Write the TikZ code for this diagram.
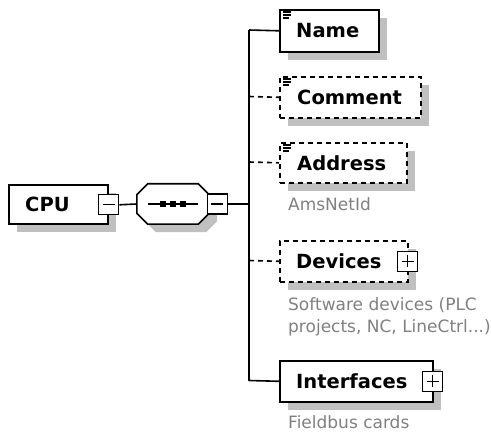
\documentclass[tikz,border=0pt]{standalone}
\usepackage{fontspec}
\setmainfont{DejaVu Sans}
\usetikzlibrary{shadows}
\definecolor{shadowgray}{RGB}{192,192,192}
\definecolor{notegray}{RGB}{128,128,128}
\tikzset{
  shadowed/.style={general shadow={fill=shadowgray, shadow xshift=8pt, shadow yshift=-8pt}},
  elem/.style={draw, line width=1.6pt, fill=white, minimum height=41pt, anchor=north west, inner sep=0pt, shadowed},
  optelem/.style={elem, dash pattern=on 5pt off 4pt},
  seqframe/.style={minimum width=72pt, minimum height=40pt, inner sep=0pt},
  pmbox/.style={draw, line width=1.4pt, fill=white, minimum size=20pt, inner sep=0pt},
  sign/.style={line width=1.4pt},
  lbl/.style={font=\bfseries\fontsize{19.5}{22}\selectfont, inner sep=0pt, anchor=west},
  note/.style={font=\fontsize{17}{22}\selectfont, text=notegray, inner sep=0pt, anchor=base west, align=left},
  conn/.style={line width=1.6pt},
  optconn/.style={conn, dash pattern=on 5pt off 4pt},
  icon/.style={line width=1.2pt}
}
\newcommand\seqoct[2]{([xshift=#1+11pt,yshift=#2]seq.north west) -- ([xshift=#1-11pt,yshift=#2]seq.north east) -- ([xshift=#1,yshift=#2-11pt]seq.north east) -- ([xshift=#1,yshift=#2+11pt]seq.south east) -- ([xshift=#1-11pt,yshift=#2]seq.south east) -- ([xshift=#1+11pt,yshift=#2]seq.south west) -- ([xshift=#1,yshift=#2+11pt]seq.south west) -- ([xshift=#1,yshift=#2-11pt]seq.north west) -- cycle}
\begin{document}
\begin{tikzpicture}[x=1pt,y=-1pt]
\useasboundingbox (0,0) rectangle (491,436);

% CPU
\node[elem, minimum width=99pt, minimum height=39pt] (cpu) at (8,184.5) {};
\node[lbl] (cpuT) at (25,204) {CPU};
\node[pmbox] (cpuM) at (cpu.east) {};
\draw[sign] ([xshift=-6pt]cpuM.center) -- ([xshift=6pt]cpuM.center);

% sequence
\node[seqframe] (seq) at (173,204) {};
\fill[shadowgray] \seqoct{8pt}{-8pt};
\draw[line width=1.6pt, fill=white] \seqoct{0pt}{0pt};
\node[pmbox] (seqM) at ([xshift=8pt]seq.east) {};
\draw[sign] ([xshift=-6pt]seqM.center) -- ([xshift=6pt]seqM.center);
\draw[line width=1.4pt] ([xshift=-25pt]seq.center) -- ([xshift=25pt]seq.center);
\foreach \dx in {-10,0,10} \fill ([xshift=\dx pt-2.6pt, yshift=2.6pt]seq.center) rectangle ++(5.2,5.2);

% children
\node[elem, minimum width=99pt, minimum height=42pt] (name) at (279,9) {};
\node[lbl] (nameT) at ([xshift=17pt]name.west) {Name};
\node[optelem, minimum width=141pt] (comment) at (279,76) {};
\node[lbl] (commentT) at ([xshift=18pt]comment.west) {Comment};
\node[optelem, minimum width=127pt, minimum height=40pt] (address) at (279,142) {};
\node[lbl] (addressT) at ([xshift=18pt]address.west) {Address};
\node[optelem, minimum width=128pt] (devices) at (279,240) {};
\node[lbl] (devicesT) at ([xshift=17pt]devices.west) {Devices};
\node[pmbox] (devicesP) at ([xshift=-1pt]devices.east) {};
\draw[sign] ([xshift=-6pt]devicesP.center) -- ([xshift=6pt]devicesP.center);
\draw[sign] ([yshift=-6pt]devicesP.center) -- ([yshift=6pt]devicesP.center);
\node[elem, minimum width=153pt] (interfaces) at (279,360) {};
\node[lbl] (interfacesT) at ([xshift=17pt]interfaces.west) {Interfaces};
\node[pmbox] (interfacesP) at ([xshift=-1pt]interfaces.east) {};
\draw[sign] ([xshift=-6pt]interfacesP.center) -- ([xshift=6pt]interfacesP.center);
\draw[sign] ([yshift=-6pt]interfacesP.center) -- ([yshift=6pt]interfacesP.center);

% text icons
\foreach \n in {name,comment,address}{
  \draw[icon] ([xshift=4pt,yshift=-3pt]\n.north west) -- ++(8,0);
  \draw[icon] ([xshift=4pt,yshift=-6pt]\n.north west) -- ++(8,0);
  \draw[icon] ([xshift=4pt,yshift=-9pt]\n.north west) -- ++(6,0);
}

% notes
\node[note] (addressN) at (288,211) {AmsNetId};
\node[note] (devicesN1) at (288,310) {Software devices (PLC};
\node[note] (devicesN2) at (288,332) {projects, NC, LineCtrl...)};
\node[note] (interfacesN) at (288,428) {Fieldbus cards};

% connectors
\coordinate (tName) at (249,30);
\coordinate (tSeq) at (249,204);
\coordinate (tComment) at (249,96.5);
\coordinate (tAddress) at (249,162);
\coordinate (tDevices) at (249,260.5);
\coordinate (tInterfaces) at (249,380.5);
\draw[conn] (cpuM.east) -- (seq.west);
\draw[conn] (seqM.east) -- (tSeq);
\draw[conn] (tName) -- (tInterfaces);
\draw[conn] (tName) -- (name.west);
\draw[optconn] (tComment) -- (comment.west);
\draw[optconn] (tAddress) -- (address.west);
\draw[optconn] (tDevices) -- (devices.west);
\draw[conn] (tInterfaces) -- (interfaces.west);
\end{tikzpicture}
\end{document}
